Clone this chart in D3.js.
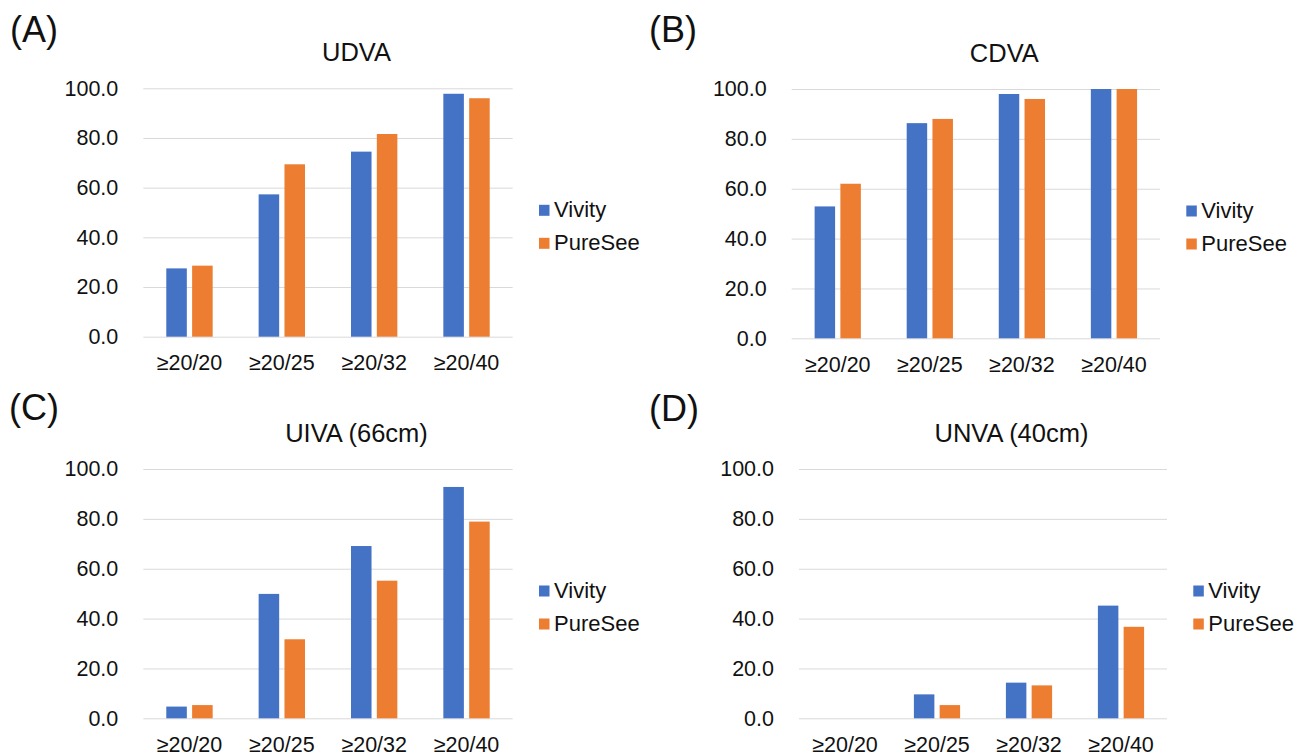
<!DOCTYPE html>
<html>
<head>
<meta charset="utf-8">
<script src="https://cdn.jsdelivr.net/npm/d3@7"></script>
<style>
  body { margin: 0; background: #fff; }
  svg { display: block; font-family: "Liberation Sans", Arial, sans-serif; }
</style>
</head>
<body>
<svg id="chart" width="1294" height="755"></svg>
<script>
// Values (% of eyes)
var categories = ['≥20/20', '≥20/25', '≥20/32', '≥20/40'];
var seriesNames = ['Vivity', 'PureSee'];
var yTicks = [0, 20, 40, 60, 80, 100];

var udvaVivity = [27.5, 57.3, 74.5, 97.8];
var udvaPureSee = [28.6, 69.4, 81.6, 96.0];
var cdvaVivity = [52.9, 86.3, 98.0, 100.0];
var cdvaPureSee = [62.0, 88.0, 96.0, 100.0];
var uivaVivity = [4.7, 49.9, 69.1, 92.8];
var uivaPureSee = [5.3, 31.7, 55.2, 78.9];
var unvaVivity = [0, 9.6, 14.3, 45.2];
var unvaPureSee = [0, 5.3, 13.2, 36.7];

var colors = {Vivity: '#4472c4', PureSee: '#ed7d31'};

// where each small chart sits on the page
var panels = [
  {label: '(A)', title: 'UDVA', vivity: udvaVivity, pure: udvaPureSee,
   left: 143.3, right: 512.7, top: 88.3, bottom: 336.7, labelX: 10, labelY: 42},
  {label: '(B)', title: 'CDVA', vivity: cdvaVivity, pure: cdvaPureSee,
   left: 791.7, right: 1160, top: 89, bottom: 338.3, labelX: 649, labelY: 42},
  {label: '(C)', title: 'UIVA (66cm)', vivity: uivaVivity, pure: uivaPureSee,
   left: 143.3, right: 512.7, top: 469, bottom: 718.3, labelX: 9, labelY: 420},
  {label: '(D)', title: 'UNVA (40cm)', vivity: unvaVivity, pure: unvaPureSee,
   left: 799, right: 1167, top: 469, bottom: 718.3, labelX: 649, labelY: 421}
];

var svg = d3.select('#chart');
var textColor = '#111';

function drawPanel(p) {
  var w = p.right - p.left;
  var h = p.bottom - p.top;
  var g = svg.append('g').attr('transform', 'translate(' + p.left + ',' + p.top + ')');

  var x = d3.scaleBand().domain(categories).range([0, w]).padding(0);
  var xs = d3.scaleBand().domain(seriesNames).range([0, x.bandwidth()])
    .paddingInner(0.205).paddingOuter(0.89);
  var y = d3.scaleLinear().domain([0, 100]).range([h, 0]);

  // gridlines + y labels
  var yAxis = g.append('g')
    .call(d3.axisLeft(y).tickValues(yTicks).tickSize(-w).tickPadding(25)
      .tickFormat(d3.format('.1f')));
  yAxis.select('.domain').remove();
  yAxis.selectAll('line').attr('stroke', '#d9d9d9').attr('stroke-width', 1);
  yAxis.selectAll('text').attr('fill', textColor).style('font-size', '21.5px');

  var rows = categories.map(function(c, i) {
    return {cat: c, values: [{s: 'Vivity', v: p.vivity[i]}, {s: 'PureSee', v: p.pure[i]}]};
  });

  g.selectAll('.grp').data(rows).enter().append('g')
    .attr('transform', function(d) { return 'translate(' + x(d.cat) + ',0)'; })
    .selectAll('rect').data(function(d) { return d.values; }).enter().append('rect')
      .attr('x', function(d) { return xs(d.s); })
      .attr('width', xs.bandwidth())
      .attr('y', function(d) { return y(d.v); })
      .attr('height', function(d) { return h - y(d.v); })
      .attr('fill', function(d) { return colors[d.s]; });

  // category labels
  var xAxis = g.append('g').attr('transform', 'translate(0,' + h + ')')
    .call(d3.axisBottom(x).tickSize(0).tickPadding(18));
  xAxis.select('.domain').remove();
  xAxis.selectAll('text').attr('fill', textColor).style('font-size', '21.5px');

  // title
  svg.append('text')
    .attr('x', (p.left + p.right) / 2 + 28.5)
    .attr('y', p.top - 27.5)
    .attr('text-anchor', 'middle')
    .attr('fill', textColor)
    .style('font-size', '25.5px')
    .text(p.title);

  // panel letter
  svg.append('text')
    .attr('x', p.labelX)
    .attr('y', p.labelY)
    .attr('fill', textColor)
    .style('font-size', '36px')
    .text(p.label);

  // legend
  var lg = g.append('g').attr('transform', 'translate(' + (w + 26.3) + ',116.5)');
  seriesNames.forEach(function(s, i) {
    lg.append('rect')
      .attr('x', 0).attr('y', i * 33)
      .attr('width', 10.5).attr('height', 11)
      .attr('fill', colors[s]);
    lg.append('text')
      .attr('x', 15).attr('y', i * 33 + 12.5)
      .attr('fill', textColor)
      .style('font-size', '22px')
      .text(s);
  });
}

panels.forEach(drawPanel);
</script>
</body>
</html>
